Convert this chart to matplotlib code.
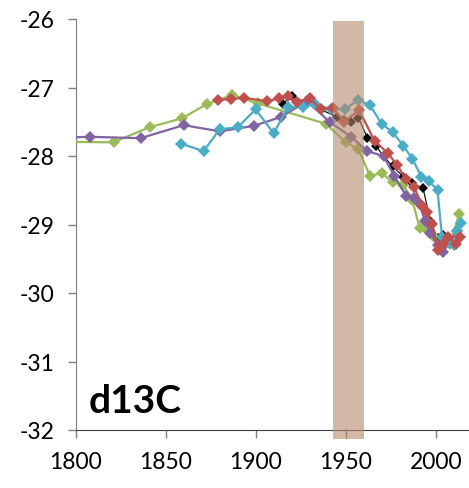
import matplotlib
matplotlib.use("Agg")
import matplotlib.pyplot as plt

plt.rcParams["axes.unicode_minus"] = False

# d13C records (year, value)
green_yr = [1780, 1821, 1841, 1859, 1873, 1887, 1901, 1939, 1950, 1957, 1963.5, 1970, 1976,
            1982, 1987, 1991, 1995, 1998.5, 2003.5, 2008, 2013]
green_val = [-27.79, -27.80, -27.58, -27.45, -27.24, -27.11, -27.23, -27.53, -27.80, -27.90, -28.29,
             -28.25, -28.38, -28.42, -28.64, -29.05, -29.08, -29.17, -29.33, -29.28, -28.85]

purple_yr = [1780, 1808, 1836, 1860, 1880, 1899, 1914, 1928.5, 1941, 1953, 1962, 1971, 1977,
             1983.5, 1988, 1991, 1994, 1997, 2001, 2004, 2008, 2012]
purple_val = [-27.74, -27.72, -27.74, -27.55, -27.64, -27.56, -27.43, -27.20, -27.50, -27.72, -27.93,
              -28.00, -28.29, -28.58, -28.62, -28.70, -28.95, -29.12, -29.30, -29.40, -29.25, -29.10]

cyan_yr = [1858.6, 1871, 1880, 1890, 1900, 1910, 1918, 1926, 1933, 1942, 1949.5, 1957, 1963.5,
           1970, 1976, 1982, 1987, 1992, 1996.5, 2001, 2003.5, 2007, 2010, 2012, 2014]
cyan_val = [-27.82, -27.93, -27.61, -27.58, -27.32, -27.67, -27.28, -27.29, -27.24, -27.32, -27.32,
            -27.18, -27.26, -27.53, -27.65, -27.85, -28.04, -28.30, -28.37, -28.50, -29.18, -29.25,
            -29.30, -29.10, -28.98]

red_yr = [1879, 1886, 1893.5, 1906, 1913, 1918, 1923, 1930, 1936, 1943, 1949, 1957.5, 1966,
          1973.5, 1978.5, 1983.5, 1988, 1992.5, 1995, 1998, 2001, 2004, 2007, 2011, 2013.5]
red_val = [-27.18, -27.17, -27.15, -27.20, -27.16, -27.12, -27.21, -27.16, -27.31, -27.30, -27.50,
           -27.33, -27.78, -27.96, -28.13, -28.34, -28.45, -28.73, -28.82, -28.99, -29.37, -29.28,
           -29.18, -29.28, -29.18]

black_yr = [1915, 1920, 1945, 1949, 1953, 1957, 1962, 1967, 1971, 1976, 1982, 1987, 1993,
            1997, 2001, 2004]
black_val = [-27.24, -27.12, -27.43, -27.47, -27.50, -27.44, -27.73, -27.86, -28.00, -28.15, -28.30,
             -28.40, -28.47, -28.95, -29.20, -29.15]

band = (1943, 1960)

fig = plt.figure(figsize=(4.69, 4.89), dpi=100)
ax = fig.add_axes([75.7 / 469, 58 / 489, (469 - 75.7) / 469, 411 / 489])

# black drawn first so the coloured records sit over it
ax.plot(black_yr, black_val, color="#000000", lw=0.8, marker="D", markersize=5.4,
        markeredgewidth=0, zorder=2)
series = [
    (green_yr, green_val, "#9BBB59"),
    (purple_yr, purple_val, "#8064A2"),
    (cyan_yr, cyan_val, "#4BACC6"),
    (red_yr, red_val, "#C0504D"),
]
for yr, val, col in series:
    ax.plot(yr, val, color=col, lw=1.6, marker="D", markersize=5.8,
            markeredgewidth=0, zorder=3)

ax.axvspan(band[0], band[1], ymin=-0.022, ymax=0.995, color="#B48A6B",
           alpha=0.6, lw=0, zorder=4, clip_on=False)

ax.set_xlim(1800, 2018.5)
ax.set_ylim(-32, -26)
ax.set_xticks([1800, 1850, 1900, 1950, 2000])
ax.set_yticks([-32, -31, -30, -29, -28, -27, -26])

for s in ["top", "right"]:
    ax.spines[s].set_visible(False)
ax.spines["left"].set_color("#7F7F7F")
ax.spines["bottom"].set_color("#404040")
ax.tick_params(axis="both", direction="out", length=6, width=1, color="#7F7F7F",
               labelsize=16.5, pad=9)
for lab in ax.get_xticklabels() + ax.get_yticklabels():
    lab.set_family("Lato")

ax.text(0.033, 0.03, "d13C", transform=ax.transAxes, fontsize=28,
        fontweight="bold", family="Lato", ha="left", va="bottom")

fig.savefig("out.png", dpi=100)
